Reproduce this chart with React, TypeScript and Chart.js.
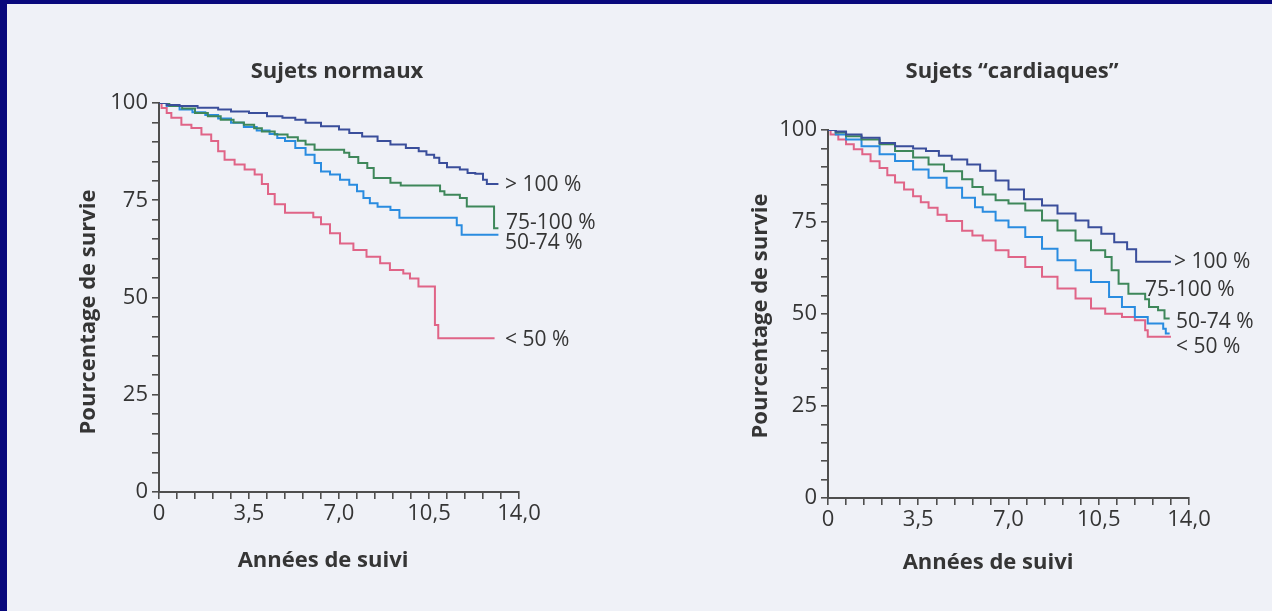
import React, { useEffect, useRef } from 'react';
import { Chart, registerables } from 'chart.js';

Chart.register(...registerables);

type Pt = [number, number];

// ---------- Data (years, % survival) ----------
const seriesNames = ['> 100 %', '75-100 %', '50-74 %', '< 50 %'];
const seriesColors = ['#3a4e9b', '#3e875a', '#2a8ce0', '#e06487'];

const normalAbove100: Pt[] = [
  [0, 100], [0.3, 99.5], [0.8, 99.2], [1.5, 98.8], [2.3, 98.3], [2.8, 97.8], [3.5, 97.4], [4.2, 96.6],
  [4.8, 96.2], [5.3, 95.7], [5.7, 94.9], [6.3, 94.0], [7.0, 93.2], [7.4, 92.3], [7.9, 91.4], [8.5, 90.2],
  [9.0, 89.3], [9.6, 88.4], [10.1, 87.6], [10.4, 86.7], [10.7, 85.9], [10.9, 84.6], [11.2, 83.5],
  [11.7, 82.9], [12.0, 82.0], [12.3, 81.8], [12.6, 80.3], [12.75, 79.2], [13.2, 79.2],
];
const normal75to100: Pt[] = [
  [0, 100], [0.4, 99.2], [0.9, 98.6], [1.4, 97.4], [1.9, 96.6], [2.4, 95.7], [2.9, 95.0], [3.3, 94.4],
  [3.7, 93.5], [4.0, 92.7], [4.5, 91.9], [5.0, 91.2], [5.4, 90.3], [5.7, 89.3], [6.05, 88.0], [7.2, 87.2],
  [7.4, 86.1], [7.75, 84.6], [8.1, 83.3], [8.35, 80.7], [9.0, 79.5], [9.4, 78.8], [10.93, 77.3],
  [11.1, 76.4], [11.7, 75.6], [11.97, 73.4], [13.03, 67.8], [13.2, 67.8],
];
const normal50to74: Pt[] = [
  [0, 100], [0.3, 99.2], [0.8, 98.3], [1.3, 97.6], [1.8, 96.9], [2.3, 96.0], [2.8, 94.9], [3.3, 93.8],
  [3.8, 92.9], [4.3, 92.0], [4.6, 91.0], [4.9, 90.2], [5.3, 88.4], [5.7, 86.7], [6.05, 84.6], [6.3, 82.4],
  [6.65, 81.6], [7.04, 80.3], [7.4, 79.0], [7.7, 77.3], [7.95, 75.6], [8.2, 74.2], [8.5, 73.3],
  [9.0, 72.5], [9.35, 70.5], [11.58, 68.6], [11.77, 66.1], [13.2, 66.1],
];
const normalBelow50: Pt[] = [
  [0, 100], [0.1, 98.7], [0.3, 97.4], [0.48, 96.2], [0.87, 94.4], [1.26, 93.6], [1.65, 91.9], [2.03, 90.2],
  [2.3, 87.6], [2.55, 85.4], [2.94, 84.2], [3.33, 82.9], [3.72, 81.6], [4.0, 79.2], [4.24, 76.6],
  [4.5, 74.0], [4.9, 71.8], [6.0, 70.6], [6.3, 68.8], [6.65, 66.5], [7.04, 63.9], [7.56, 62.2],
  [8.07, 60.5], [8.6, 58.8], [8.98, 57.1], [9.5, 56.2], [9.76, 54.9], [10.09, 52.8], [10.73, 42.9],
  [10.86, 39.5], [13.05, 39.5],
];

const cardiacAbove100: Pt[] = [
  [0, 100], [0.3, 99.6], [0.7, 98.8], [1.3, 97.9], [2.0, 96.5], [2.6, 95.6], [3.3, 95.0], [3.8, 94.3],
  [4.3, 93.0], [4.8, 92.0], [5.4, 90.6], [5.9, 88.9], [6.5, 86.3], [7.0, 83.8], [7.6, 81.2], [8.3, 79.5],
  [8.9, 77.3], [9.6, 75.4], [10.1, 73.6], [10.6, 71.8], [11.1, 69.5], [11.6, 67.6], [11.95, 64.2],
  [13.3, 64.2],
];
const cardiac75to100: Pt[] = [
  [0, 100], [0.3, 99.3], [0.7, 98.3], [1.3, 97.4], [2.0, 96.1], [2.6, 94.3], [3.3, 92.5], [3.9, 90.6],
  [4.5, 88.8], [5.2, 86.6], [5.6, 84.5], [6.0, 82.5], [6.5, 80.9], [7.0, 80.0], [7.65, 78.1], [8.3, 75.4],
  [8.9, 72.7], [9.6, 70.0], [10.2, 67.3], [10.75, 65.5], [11.0, 61.9], [11.27, 58.2], [11.65, 55.5],
  [12.3, 54.0], [12.45, 51.9], [12.8, 51.0], [13.05, 48.8], [13.25, 48.8],
];
const cardiac50to74: Pt[] = [
  [0, 100], [0.3, 98.8], [0.7, 97.4], [1.3, 95.6], [2.0, 93.4], [2.6, 91.6], [3.3, 89.3], [3.9, 87.0],
  [4.6, 84.3], [5.2, 81.6], [5.7, 79.0], [6.0, 77.8], [6.5, 75.4], [7.0, 73.6], [7.65, 70.9], [8.3, 67.7],
  [8.9, 64.6], [9.6, 61.9], [10.2, 58.7], [10.9, 54.6], [11.4, 51.9], [11.9, 49.2], [12.4, 47.4],
  [13.0, 46.0], [13.1, 44.7], [13.25, 44.7],
];
const cardiacBelow50: Pt[] = [
  [0, 100], [0.1, 98.8], [0.4, 97.4], [0.7, 96.1], [1.0, 94.8], [1.33, 93.4], [1.65, 91.5], [2.0, 89.7],
  [2.3, 87.7], [2.6, 85.7], [2.95, 83.8], [3.3, 82.0], [3.6, 80.4], [3.9, 78.9], [4.25, 77.0], [4.6, 75.3],
  [5.2, 72.6], [5.6, 71.3], [6.0, 70.0], [6.5, 67.3], [7.0, 65.5], [7.65, 62.8], [8.3, 60.1], [8.9, 56.9],
  [9.6, 54.2], [10.2, 51.5], [10.75, 50.1], [11.4, 49.2], [11.9, 48.3], [12.3, 45.6], [12.4, 43.8],
  [13.3, 43.8],
];

const xMax = 14;
const xMinorStep = 0.7;
const xLabelStep = 3.5;
const yMax = 100;
const yMinorStep = 5;
const yLabelStep = 25;

const panelTitles = ['Sujets normaux', 'Sujets \u201Ccardiaques\u201D'];
const xAxisTitle = 'Ann\u00E9es de suivi';
const yAxisTitle = 'Pourcentage de survie';

// ---------- Layout (styling only) ----------
type Box = { left: number; top: number; width: number; height: number };
type Area = { left: number; top: number; right: number; bottom: number };
interface PanelLayout {
  canvas: Box;
  area: Area;
  title: [number, number];
  xTitle: [number, number];
  yTitle: [number, number];
  labels: [number, number][];
}

const layouts: PanelLayout[] = [
  {
    canvas: { left: 0, top: 0, width: 640, height: 611 },
    area: { left: 159, top: 103, right: 519, bottom: 492 },
    title: [337, 72],
    xTitle: [323, 561],
    yTitle: [89, 312],
    labels: [[505, 185], [506, 223], [505, 243], [505, 340]],
  },
  {
    canvas: { left: 640, top: 0, width: 632, height: 611 },
    area: { left: 188, top: 130, right: 549, bottom: 498 },
    title: [372, 72],
    xTitle: [348, 563],
    yTitle: [121, 316],
    labels: [[534, 262], [505, 290], [536, 322], [536, 347]],
  },
];

const TEXT = '#353535';
const AXIS = '#4e4e4e';
const FONT = "'Open Sans', 'Noto Sans', sans-serif";

function isMultiple(v: number, step: number) {
  const r = v / step;
  return Math.abs(r - Math.round(r)) < 1e-6;
}

function makeTextPlugin(title: string, lay: PanelLayout) {
  return {
    id: 'panelTexts',
    afterDraw(chart: any) {
      const ctx: CanvasRenderingContext2D = chart.ctx;
      ctx.save();
      ctx.fillStyle = TEXT;
      ctx.textBaseline = 'middle';
      // panel title
      ctx.font = `bold 22px ${FONT}`;
      ctx.textAlign = 'center';
      ctx.fillText(title, lay.title[0], lay.title[1]);
      // x axis title
      ctx.font = `bold 22px ${FONT}`;
      ctx.fillText(xAxisTitle, lay.xTitle[0], lay.xTitle[1]);
      // y axis title
      ctx.save();
      ctx.translate(lay.yTitle[0], lay.yTitle[1]);
      ctx.rotate(-Math.PI / 2);
      ctx.font = `bold 22px ${FONT}`;
      ctx.fillText(yAxisTitle, 0, 0);
      ctx.restore();
      // series labels at line ends
      ctx.font = `21px ${FONT}`;
      ctx.textAlign = 'left';
      seriesNames.forEach((name, i) => {
        const p = lay.labels[i];
        ctx.fillText(name, p[0], p[1]);
      });
      ctx.restore();
    },
  };
}

function SurvivalPanel({ title, series, lay }: { title: string; series: Pt[][]; lay: PanelLayout }) {
  const ref = useRef<HTMLCanvasElement | null>(null);
  useEffect(() => {
    const canvas = ref.current;
    if (!canvas) return;
    const { width: W, height: H } = lay.canvas;
    const a = lay.area;
    const chart = new Chart(canvas, {
      type: 'line',
      data: {
        datasets: series.map((s, i) => ({
          label: seriesNames[i],
          data: s.map(([x, y]) => ({ x, y })),
          borderColor: seriesColors[i],
          backgroundColor: seriesColors[i],
          borderWidth: 2,
          pointRadius: 0,
          stepped: 'before' as const,
          fill: false,
          tension: 0,
        })),
      },
      options: {
        responsive: false,
        animation: false,
        devicePixelRatio: 1,
        layout: { padding: { left: 0, top: a.top, right: W - a.right, bottom: 0 } },
        plugins: { legend: { display: false }, tooltip: { enabled: false }, title: { display: false } },
        scales: {
          x: {
            type: 'linear',
            min: 0,
            max: xMax,
            afterFit: (s: any) => { s.height = H - a.bottom; },
            ticks: {
              stepSize: xMinorStep,
              autoSkip: false,
              maxRotation: 0,
              minRotation: 0,
              padding: 2,
              color: TEXT,
              font: { family: FONT, size: 22 },
              callback: (v: any) => {
                const n = Number(v);
                if (!isMultiple(n, xLabelStep)) return '';
                return n === 0 ? '0' : n.toFixed(1).replace('.', ',');
              },
            },
            grid: { display: true, drawOnChartArea: false, drawTicks: true, tickLength: 7, color: AXIS, lineWidth: 1.6 },
            border: { display: true, color: AXIS, width: 2 },
          },
          y: {
            type: 'linear',
            min: 0,
            max: yMax,
            afterFit: (s: any) => { s.width = a.left; },
            ticks: {
              stepSize: yMinorStep,
              autoSkip: false,
              padding: 4,
              color: TEXT,
              font: { family: FONT, size: 22 },
              callback: (v: any) => {
                const n = Number(v);
                return isMultiple(n, yLabelStep) ? String(n) : '';
              },
            },
            grid: { display: true, drawOnChartArea: false, drawTicks: true, tickLength: 7, color: AXIS, lineWidth: 1.6 },
            border: { display: true, color: AXIS, width: 2 },
          },
        },
      },
      plugins: [makeTextPlugin(title, lay)],
    } as any);
    return () => chart.destroy();
  }, []);
  return (
    <canvas
      ref={ref}
      width={lay.canvas.width}
      height={lay.canvas.height}
      style={{ position: 'absolute', left: lay.canvas.left, top: lay.canvas.top, width: lay.canvas.width, height: lay.canvas.height }}
    />
  );
}

export default function App() {
  return (
    <div style={{ position: 'fixed', left: 0, top: 0, width: 1272, height: 611, background: '#eff1f7', overflow: 'hidden' }}>
      <SurvivalPanel title={panelTitles[0]} series={[normalAbove100, normal75to100, normal50to74, normalBelow50]} lay={layouts[0]} />
      <SurvivalPanel title={panelTitles[1]} series={[cardiacAbove100, cardiac75to100, cardiac50to74, cardiacBelow50]} lay={layouts[1]} />
      <div style={{ position: 'absolute', left: 0, top: 0, width: 1272, height: 4, background: '#08087c' }} />
      <div style={{ position: 'absolute', left: 0, top: 0, width: 7, height: 611, background: '#08087c' }} />
    </div>
  );
}
